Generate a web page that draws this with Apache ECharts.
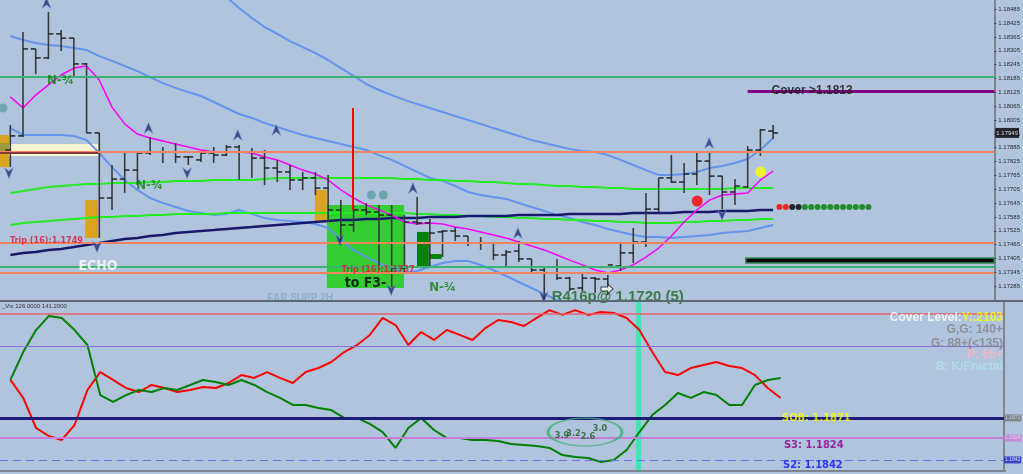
<!DOCTYPE html>
<html>
<head>
<meta charset="utf-8">
<title>EURUSD H1</title>
<script src="https://cdn.jsdelivr.net/npm/echarts@6/dist/echarts.min.js"></script>
<style>
html,body{margin:0;padding:0;background:#b0c4de;}
#chart{width:1023px;height:474px;}
</style>
</head>
<body>
<div id="chart"></div>
<script>
// ---- price bars (index 0..60) ----
const opens = [1.17875,1.17936,1.18313,1.18274,1.18378,1.18360,1.18248,1.17949,1.17667,1.17749,
1.17788,1.17862,1.17866,1.17866,1.17845,1.17832,1.17862,1.17853,1.17888,1.17866,
1.17840,1.17797,1.17780,1.17745,1.17754,1.17710,1.17615,1.17550,1.17615,1.17606,
1.17593,1.17364,1.17563,1.17559,1.17520,1.17524,1.17502,1.17472,1.17472,1.17420,
1.17437,1.17403,1.17355,1.17342,1.17320,1.17277,1.17320,1.17316,1.17372,1.17429,
1.17476,1.17619,1.17754,1.17736,1.17771,1.17827,1.17762,1.17693,1.17715,1.17875,
1.17957];
const highs = [1.17983,1.18386,1.18313,1.18473,1.18395,1.18360,1.18252,1.17949,1.17810,1.17866,
1.17866,1.17931,1.17888,1.17905,1.17849,1.17871,1.17888,1.17897,1.17897,1.17884,
1.17875,1.17832,1.17810,1.17780,1.17780,1.17767,1.17658,1.17637,1.17645,1.17637,
1.17637,1.17593,1.17671,1.17576,1.17528,1.17541,1.17502,1.17498,1.17472,1.17442,
1.17481,1.17403,1.17372,1.17403,1.17325,1.17342,1.17325,1.17333,1.17476,1.17537,
1.17689,1.17754,1.17853,1.17819,1.17866,1.17871,1.17762,1.17749,1.17892,1.17966,
1.17983];
const lows = [1.17801,1.17931,1.18204,1.18269,1.18304,1.18191,1.17949,1.17494,1.17615,1.17689,
1.17723,1.17853,1.17819,1.17819,1.17810,1.17823,1.17819,1.17849,1.17745,1.17754,
1.17723,1.17736,1.17702,1.17702,1.17680,1.17563,1.17463,1.17520,1.17593,1.17355,
1.17281,1.17346,1.17550,1.17368,1.17411,1.17481,1.17459,1.17442,1.17398,1.17372,
1.17390,1.17346,1.17225,1.17312,1.17264,1.17264,1.17255,1.17247,1.17351,1.17385,
1.17455,1.17606,1.17732,1.17689,1.17723,1.17680,1.17619,1.17637,1.17710,1.17849,
1.17923];
const closes = [1.17936,1.18313,1.18274,1.18378,1.18360,1.18248,1.17949,1.17667,1.17749,1.17788,
1.17862,1.17866,1.17866,1.17845,1.17845,1.17862,1.17853,1.17888,1.17866,1.17840,
1.17797,1.17780,1.17745,1.17754,1.17710,1.17615,1.17550,1.17615,1.17606,1.17593,
1.17364,1.17563,1.17559,1.17515,1.17524,1.17502,1.17472,1.17472,1.17420,1.17433,
1.17403,1.17355,1.17342,1.17320,1.17273,1.17320,1.17316,1.17377,1.17429,1.17476,
1.17619,1.17754,1.17736,1.17771,1.17827,1.17762,1.17693,1.17719,1.17875,1.17962,
1.17949];

// ---- overlays ----
const bbUpper = [null,null,null,null,null,null,null,null,null,null,null,null,null,null,
1.18698,1.18646,1.18590,1.18538,1.18490,1.18447,1.18408,1.18378,1.18347,1.18321,
1.18295,1.18265,1.18230,1.18196,1.18161,1.18135,1.18113,1.18092,1.18074,1.18057,
1.18040,1.18022,1.18005,1.17988,1.17970,1.17953,1.17936,1.17918,1.17905,1.17892,
1.17879,1.17871,1.17866,1.17853,1.17832,1.17810,1.17788,1.17767,1.17767,1.17771,
1.17780,1.17797,1.17806,1.17819,1.17836,1.17875,1.17927];
const bbMid = [1.18369,1.18352,1.18339,1.18330,1.18326,1.18317,1.18308,1.18282,1.18261,1.18239,
1.18217,1.18191,1.18165,1.18144,1.18126,1.18109,1.18083,1.18057,1.18031,1.18014,
1.17992,1.17975,1.17957,1.17940,1.17927,1.17914,1.17901,1.17888,1.17875,1.17853,
1.17832,1.17806,1.17780,1.17754,1.17741,1.17719,1.17693,1.17680,1.17671,1.17663,
1.17645,1.17628,1.17611,1.17593,1.17580,1.17563,1.17550,1.17533,1.17520,1.17507,
1.17498,1.17498,1.17494,1.17498,1.17502,1.17507,1.17515,1.17520,1.17524,1.17537,
1.17550];
const bbLower = [1.17970,1.17940,1.17940,1.17940,1.17940,1.17936,1.17918,1.17862,1.17801,1.17745,
1.17702,1.17667,1.17645,1.17628,1.17611,1.17602,1.17593,1.17598,1.17615,1.17598,
1.17580,1.17572,1.17567,1.17563,1.17554,1.17537,1.17485,1.17442,1.17411,1.17385,
1.17364,1.17342,1.17351,1.17368,1.17385,1.17394,1.17394,1.17377,1.17355,1.17329,
1.17303,1.17277,1.17251,1.17225,1.17203,1.17186,1.17173,1.17164,1.17160,1.17160,
1.17164,1.17169,1.17173,1.17177,1.17182,1.17182,1.17182,1.17177,1.17177,1.17173,
1.17173];
const maFast = [1.18105,1.18057,1.18113,1.18157,1.18200,1.18230,1.18239,1.18178,1.18061,1.17988,
1.17944,1.17927,1.17914,1.17901,1.17888,1.17875,1.17866,1.17866,1.17866,1.17862,
1.17845,1.17832,1.17810,1.17788,1.17771,1.17745,1.17702,1.17667,1.17637,1.17615,
1.17593,1.17563,1.17554,1.17559,1.17554,1.17541,1.17533,1.17520,1.17507,1.17494,
1.17476,1.17459,1.17442,1.17420,1.17398,1.17377,1.17355,1.17342,1.17355,1.17377,
1.17411,1.17450,1.17502,1.17563,1.17615,1.17658,1.17680,1.17684,1.17689,1.17745,
1.17784];
const maLime1 = [1.17689,1.17697,1.17706,1.17715,1.17719,1.17723,1.17728,1.17728,1.17732,1.17732,
1.17732,1.17736,1.17736,1.17741,1.17741,1.17741,1.17745,1.17745,1.17745,1.17745,
1.17749,1.17754,1.17754,1.17754,1.17754,1.17754,1.17754,1.17754,1.17754,1.17754,
1.17754,1.17749,1.17749,1.17745,1.17745,1.17741,1.17741,1.17736,1.17736,1.17732,
1.17728,1.17728,1.17723,1.17719,1.17719,1.17715,1.17715,1.17710,1.17710,1.17706,
1.17706,1.17706,1.17706,1.17706,1.17706,1.17706,1.17706,1.17710,1.17710,1.17710,
1.17710];
const maLime2 = [1.17550,1.17559,1.17563,1.17567,1.17572,1.17576,1.17580,1.17585,1.17585,1.17589,
1.17589,1.17593,1.17593,1.17598,1.17598,1.17598,1.17598,1.17602,1.17602,1.17602,
1.17602,1.17602,1.17602,1.17602,1.17602,1.17602,1.17602,1.17602,1.17602,1.17602,
1.17602,1.17602,1.17598,1.17598,1.17593,1.17593,1.17589,1.17589,1.17585,1.17585,
1.17580,1.17580,1.17576,1.17576,1.17572,1.17572,1.17567,1.17567,1.17563,1.17563,
1.17559,1.17559,1.17559,1.17563,1.17563,1.17567,1.17567,1.17572,1.17572,1.17576,
1.17576];
const maNavy = [1.17420,1.17429,1.17433,1.17442,1.17446,1.17455,1.17463,1.17472,1.17481,1.17489,
1.17494,1.17502,1.17507,1.17515,1.17520,1.17524,1.17528,1.17533,1.17537,1.17541,
1.17546,1.17550,1.17554,1.17559,1.17563,1.17567,1.17572,1.17572,1.17576,1.17576,
1.17580,1.17580,1.17580,1.17585,1.17585,1.17585,1.17589,1.17589,1.17589,1.17589,
1.17593,1.17593,1.17593,1.17593,1.17598,1.17598,1.17598,1.17598,1.17598,1.17602,
1.17602,1.17602,1.17602,1.17606,1.17606,1.17606,1.17611,1.17611,1.17611,1.17615,
1.17615];

// horizontal levels of the price panel
const levelGreen = [1.18191, 1.17368];
const levelOrange = [1.17866, 1.17472, 1.17342];
const coverLevel = 1.18131;
const tickStart = 1.17225, tickStep = 0.0006, priceTop = 1.18525;

// signal marks
const arrowsUp = [[2.85,1.18512],[10.87,1.17970],[17.89,1.17940],[20.92,1.17962],[31.67,1.17710],[39.93,1.17515],[54.97,1.17905]];
const arrowsDown = [[-0.11,1.17775],[13.91,1.17775],[25.91,1.17485],[29.96,1.17268],[55.98,1.17593],[41.96,1.17238],[6.82,1.17455]];
const tealDots = [[-0.58,1.18057],[28.4,1.17680],[29.34,1.17680]];
const stripX = [60.5,61,61.5,62,62.5,63,63.5,64,64.5,65,65.5,66,66.5,67,67.5];
const stripState = [-1,-1,0,0,1,1,1,1,1,1,1,1,1,1,1];
const stripPrice = 1.17628;

// ---- oscillator panel ----
const oscRed = [53.6,42.9,25.0,20.2,17.9,26.8,47.6,58.3,53.6,48.8,
46.4,50.6,48.8,46.4,47.6,49.4,48.8,51.8,56.5,54.8,
58.3,54.8,51.8,58.3,60.7,64.3,70.2,74.4,80.4,90.5,
86.3,74.4,82.1,77.4,83.3,80.4,77.4,84.5,89.3,88.1,
85.7,90.5,95.2,92.3,95.2,92.3,94.0,93.5,90.5,83.3,
70.2,58.3,56.5,60.7,62.5,64.3,61.9,60.7,56.5,48.8,
42.9];
const oscGreen = [53.6,70.2,83.3,91.7,90.5,83.3,74.4,44.6,40.5,44.6,
47.6,46.4,48.8,47.6,50.6,53.6,52.4,50.6,53.6,50.6,
46.4,42.9,38.7,38.7,36.9,35.7,31.0,31.0,27.4,22.6,
13.1,25.0,31.0,23.8,19.0,19.0,17.9,17.9,17.3,15.5,
14.9,14.3,13.1,8.9,7.7,7.1,4.8,6.0,11.9,22.6,
32.7,38.7,45.8,42.9,46.4,44.6,38.7,38.7,50.6,53.6,
54.8];
const oscLevels = {top: 92.9, upper: 73.8, sob: 31.0, s3: 19.0, s2: 6.0};
const cycleNums = ['3.9','3.2','2.6','3.0'];
const cycleAt = [[42.97,20.2],[43.86,21.4],[44.99,19.6],[45.93,24.4]];

const COND = "'Liberation Sans Narrow','DejaVu Sans Condensed','Arial Narrow',sans-serif";
const SANS = "'Liberation Sans',Arial,sans-serif";
const XMIN = -0.81, XMAX = 77.4;
const idx = a => a.map((v, i) => [i, v]);

function renderBar(params, api) {
  const i = api.value(0);
  const x = api.coord([i, api.value(2)])[0];
  const o = api.coord([i, api.value(1)])[1];
  const h = api.coord([i, api.value(2)])[1];
  const l = api.coord([i, api.value(3)])[1];
  const c = api.coord([i, api.value(4)])[1];
  return {type: 'group', children: [
    {type: 'line', shape: {x1: x, y1: h, x2: x, y2: l}, style: {stroke: '#3a3a3a', lineWidth: 1.6}},
    {type: 'line', shape: {x1: x - 5, y1: o, x2: x, y2: o}, style: {stroke: '#111', lineWidth: 1.3}},
    {type: 'line', shape: {x1: x, y1: c, x2: x + 5, y2: c}, style: {stroke: '#111', lineWidth: 1.3}}
  ]};
}

function note(at, text, style, pos) {
  return {value: at, label: Object.assign({show: true, formatter: text, position: pos || 'inside', distance: 0}, style)};
}

function line(data, color, width, xi) {
  return {type: 'line', xAxisIndex: xi, yAxisIndex: xi, data: idx(data), symbol: 'none',
    lineStyle: {color: color, width: width}, silent: true, z: 3};
}

// a full-width or partial horizontal segment, in data coordinates
function seg(x1, y1, x2, y2, style) {
  return [{coord: [x1, y1], lineStyle: Object.assign({type: 'solid'}, style)}, {coord: [x2, y2]}];
}

const bars = opens.map((o, i) => [i, o, highs[i], lows[i], closes[i]]);
const stripColors = {'-1': '#ff0000', '0': '#000000', '1': '#008000'};

const upArrow = 'path://M5,0 L10,12 L5,8 L0,12 Z';
const downArrow = 'path://M0,0 L5,4 L10,0 L5,12 Z';
const rightArrow = 'path://M0,3 L6,3 L6,0 L11,5 L6,10 L6,7 L0,7 Z';

const nq = {color: '#138013', fontSize: 13, fontWeight: 'bold', fontFamily: COND};
const trip = {color: '#e0143c', fontSize: 9, fontWeight: 'bold', fontFamily: COND};
const axisLineStyle = {show: true, onZero: false, lineStyle: {color: '#7d8590', width: 2}};

const option = {
  backgroundColor: '#b0c4de',
  animation: false,
  grid: [
    {left: 0, top: 0, width: 1004, height: 300},
    {left: 0, top: 302, width: 1004, height: 168}
  ],
  xAxis: [
    {type: 'value', gridIndex: 0, min: XMIN, max: XMAX, show: false},
    {type: 'value', gridIndex: 1, min: XMIN, max: XMAX, show: false}
  ],
  yAxis: [
    {type: 'value', gridIndex: 0, position: 'right', min: tickStart, max: priceTop, interval: tickStep,
      axisLine: axisLineStyle,
      axisTick: {show: true, length: 2, lineStyle: {color: '#444'}},
      axisLabel: {fontSize: 6, color: '#2a2a2a', margin: 4, showMinLabel: false, showMaxLabel: false,
        formatter: v => v.toFixed(5)},
      splitLine: {show: false}},
    {type: 'value', gridIndex: 1, position: 'right', min: 0, max: 100,
      axisLine: axisLineStyle,
      axisTick: {show: false}, axisLabel: {show: false}, splitLine: {show: false}}
  ],
  graphic: [
    {type: 'rect', shape: {x: 0, y: 300, width: 1023, height: 2}, style: {fill: '#5d6773'}, z: 100},
    {type: 'rect', shape: {x: 0, y: 470, width: 1006, height: 2}, style: {fill: '#7d8590'}, z: 100},
    {type: 'text', x: 2, y: 303, style: {text: '_Vix 126.0000 141.2000', fontSize: 6, fill: '#333', fontFamily: SANS}, z: 100}
  ],
  series: [
    // zones of the price panel
    {type: 'line', xAxisIndex: 0, yAxisIndex: 0, data: [], z: 1, silent: true,
      markArea: {silent: true, data: [
        [{coord: [XMIN, 1.17901], itemStyle: {color: '#fff8d2'}}, {coord: [6.9, 1.17849]}],
        [{coord: [XMIN, 1.17940], itemStyle: {color: '#d9a521'}}, {coord: [-0.11, 1.17801]}],
        [{coord: [XMIN, 1.17905], itemStyle: {color: '#9c9a3c'}}, {coord: [-0.11, 1.17862]}],
        [{coord: [5.89, 1.17658], itemStyle: {color: '#d9a521'}}, {coord: [6.9, 1.17494]}],
        [{coord: [23.96, 1.17702], itemStyle: {color: '#d9a521'}}, {coord: [24.9, 1.17563]}],
        [{coord: [24.9, 1.17637], itemStyle: {color: '#33cc33'}}, {coord: [30.97, 1.17277]}],
        [{coord: [31.99, 1.17520], itemStyle: {color: '#008000'}}, {coord: [32.92, 1.17372]}],
        [{coord: [32.92, 1.17424], itemStyle: {color: '#008000'}}, {coord: [33.93, 1.17403]}],
        [{coord: [57.85, 1.17407], itemStyle: {color: '#000', borderColor: '#2e8b57', borderWidth: 1.5}}, {coord: [XMAX, 1.17385]}]
      ]}},
    // horizontal levels
    {type: 'line', xAxisIndex: 0, yAxisIndex: 0, data: [], z: 2, silent: true,
      markLine: {silent: true, symbol: ['none', 'none'], label: {show: false}, data: [
        ...levelGreen.map(v => seg(XMIN, v, XMAX, v, {color: '#3cb371', width: 2})),
        ...levelOrange.map(v => seg(XMIN, v, XMAX, v, {color: '#f4845f', width: 2})),
        seg(XMIN, 1.17862, 6.9, 1.17862, {color: '#8b3a3a', width: 2}),
        seg(58.0, coverLevel, XMAX, coverLevel, {color: '#800080', width: 3}),
        seg(26.92, 1.18057, 26.92, 1.17615, {color: '#ff0000', width: 2})
      ]}},
    line(bbUpper, '#6495ed', 2, 0),
    line(bbMid, '#6495ed', 2, 0),
    line(bbLower, '#6495ed', 2, 0),
    line(maLime1, '#22ee22', 2, 0),
    line(maLime2, '#22ee22', 2, 0),
    line(maNavy, '#191970', 2.5, 0),
    line(maFast, '#ff00ff', 1.5, 0),
    {type: 'custom', xAxisIndex: 0, yAxisIndex: 0, data: bars, renderItem: renderBar, clip: true, z: 4,
      encode: {x: 0, y: [1, 2, 3, 4]}},
    // last price tag on the axis
    {type: 'scatter', xAxisIndex: 0, yAxisIndex: 0, symbolSize: 0, z: 6, silent: true,
      data: [{value: [XMAX, closes[closes.length - 1]],
        label: {show: true, position: 'right', distance: 1, formatter: closes[closes.length - 1].toFixed(5),
          backgroundColor: '#000', color: '#fff', fontSize: 6, padding: [2, 1]}}]},
    {type: 'scatter', xAxisIndex: 0, yAxisIndex: 0, data: arrowsUp, symbol: upArrow, symbolSize: [9, 11],
      itemStyle: {color: '#1f2a78', borderColor: '#8090c8', borderWidth: 0.6}, z: 5, silent: true},
    {type: 'scatter', xAxisIndex: 0, yAxisIndex: 0, data: arrowsDown, symbol: downArrow, symbolSize: [9, 11],
      itemStyle: {color: '#1f2a78', borderColor: '#8090c8', borderWidth: 0.6}, z: 5, silent: true},
    {type: 'scatter', xAxisIndex: 0, yAxisIndex: 0, data: [[46.94, 1.17273]], symbol: rightArrow, symbolSize: [12, 10],
      itemStyle: {color: '#fff', borderColor: '#222', borderWidth: 1}, z: 5, silent: true},
    {type: 'scatter', xAxisIndex: 0, yAxisIndex: 0, data: tealDots, symbolSize: 9,
      itemStyle: {color: '#5f9ea0'}, z: 5, silent: true},
    {type: 'scatter', xAxisIndex: 0, yAxisIndex: 0, data: [[54.03, 1.17654]], symbolSize: 11,
      itemStyle: {color: '#ff0000'}, z: 5, silent: true},
    {type: 'scatter', xAxisIndex: 0, yAxisIndex: 0, data: [[59.02, 1.17780]], symbolSize: 11,
      itemStyle: {color: '#ffff00'}, z: 5, silent: true},
    {type: 'scatter', xAxisIndex: 0, yAxisIndex: 0, symbolSize: 6, z: 5, silent: true,
      data: stripX.map((x, k) => ({value: [x, stripPrice], itemStyle: {color: stripColors[stripState[k]]}}))},
    // text notes on the price panel
    {type: 'scatter', xAxisIndex: 0, yAxisIndex: 0, symbolSize: 0, z: 6, silent: true, data: [
      note([3.94, 1.18174], 'N-¾', nq),
      note([10.95, 1.17719], 'N-¾', nq),
      note([34.0, 1.17277], 'N-¾', nq),
      note([6.9, 1.17372], 'ECHO', {color: '#fff', fontSize: 14, fontWeight: 'bold', fontFamily: COND}),
      note([-0.03, 1.17481], 'Trip (16):1.1749', trip, 'right'),
      note([26.06, 1.17355], 'Trip (16):1.1737', trip, 'right'),
      note([27.94, 1.17299], 'to F3-', {color: '#000', fontSize: 14, fontWeight: 'bold', fontFamily: COND}),
      note([42.58, 1.17238], 'R416p@ 1.1720 (5)', {color: '#1f6a1f', fontSize: 15, fontWeight: 'bold', fontFamily: SANS}, 'right'),
      note([20.22, 1.17234], 'FAR SUPP 2H', {color: '#8aa6c6', fontSize: 10, fontWeight: 'bold', fontFamily: SANS}, 'right'),
      note([63.07, coverLevel], 'Cover >1.1813', {color: '#111', fontSize: 12, fontWeight: 'bold', fontFamily: SANS})
    ]},

    // ---- oscillator panel ----
    {type: 'line', xAxisIndex: 1, yAxisIndex: 1, data: [], z: 2, silent: true,
      markLine: {silent: true, symbol: ['none', 'none'], label: {show: false}, data: [
        seg(XMIN, oscLevels.top, XMAX, oscLevels.top, {color: '#e8606a', width: 1.5}),
        seg(XMIN, oscLevels.upper, XMAX, oscLevels.upper, {color: '#8a70e0', width: 1}),
        seg(XMIN, oscLevels.sob, XMAX, oscLevels.sob, {color: '#1c1c78', width: 3}),
        seg(XMIN, oscLevels.s3, XMAX, oscLevels.s3, {color: '#c77ddb', width: 2}),
        seg(XMIN, oscLevels.s2, XMAX, oscLevels.s2, {color: '#6f6fe8', width: 1, type: [8, 5]})
      ]}},
    line(oscRed, '#ff0000', 2, 1),
    line(oscGreen, '#008000', 2, 1),
    {type: 'line', xAxisIndex: 1, yAxisIndex: 1, data: [], z: 7, silent: true,
      markArea: {silent: true, data: [
        [{coord: [48.74, 0], itemStyle: {color: '#3ee8b0'}}, {coord: [49.13, 100]}]
      ]}},
    {type: 'scatter', xAxisIndex: 1, yAxisIndex: 1, data: [[44.76, 22.6]], symbol: 'circle', symbolSize: [74, 28],
      itemStyle: {color: 'rgba(0,0,0,0)', borderColor: '#3cb371', borderWidth: 2}, z: 6, silent: true},
    // level tags on the oscillator axis
    {type: 'scatter', xAxisIndex: 1, yAxisIndex: 1, symbolSize: 0, z: 8, silent: true, data: [
      note([XMAX, oscLevels.sob], '1.1871', {fontSize: 5, color: '#ddd', backgroundColor: '#777', padding: [1, 1]}, 'right'),
      note([XMAX, oscLevels.s3], '1.1824', {fontSize: 5, color: '#eee', backgroundColor: '#c77ddb', padding: [1, 1]}, 'right'),
      note([XMAX, oscLevels.s2], '1.1842', {fontSize: 5, color: '#fff', backgroundColor: '#2222cc', padding: [1, 1]}, 'right')
    ]},
    {type: 'scatter', xAxisIndex: 1, yAxisIndex: 1, symbolSize: 0, z: 8, silent: true, data: [
      ...cycleAt.map((p, k) => note(p, cycleNums[k], {color: '#1d5e1d', fontSize: 9, fontWeight: 'bold', fontFamily: COND})),
      note([77.32, 90.5], '{w|Cover Level:}{y|Y:.2103}', {rich: {
        w: {color: '#fff', fontSize: 12, fontWeight: 'bold', fontFamily: SANS},
        y: {color: '#ffff00', fontSize: 12, fontWeight: 'bold', fontFamily: SANS}}}, 'left'),
      note([77.32, 83.3], 'G,G: 140+', {color: '#858585', fontSize: 12, fontWeight: 'bold', fontFamily: SANS}, 'left'),
      note([77.32, 75.0], 'G: 88+(<135)', {color: '#858585', fontSize: 12, fontWeight: 'bold', fontFamily: SANS}, 'left'),
      note([77.32, 68.5], 'P: 65+', {color: '#ffb6c1', fontSize: 12, fontWeight: 'bold', fontFamily: SANS}, 'left'),
      note([77.32, 61.3], 'B: K/Fractal', {color: '#aee6e6', fontSize: 12, fontWeight: 'bold', fontFamily: SANS}, 'left'),
      note([60.11, oscLevels.sob], 'SOB: 1.1871', {color: '#ffff00', fontSize: 11, fontWeight: 'bold', fontFamily: COND}, 'right'),
      note([60.26, 14.9], 'S3: 1.1824', {color: '#8b008b', fontSize: 11, fontWeight: 'bold', fontFamily: COND}, 'right'),
      note([60.19, 3.0], 'S2: 1.1842', {color: '#1010ff', fontSize: 11, fontWeight: 'bold', fontFamily: COND}, 'right')
    ]}
  ]
};

const chart = echarts.init(document.getElementById('chart'));
chart.setOption(option);
</script>
</body>
</html>
